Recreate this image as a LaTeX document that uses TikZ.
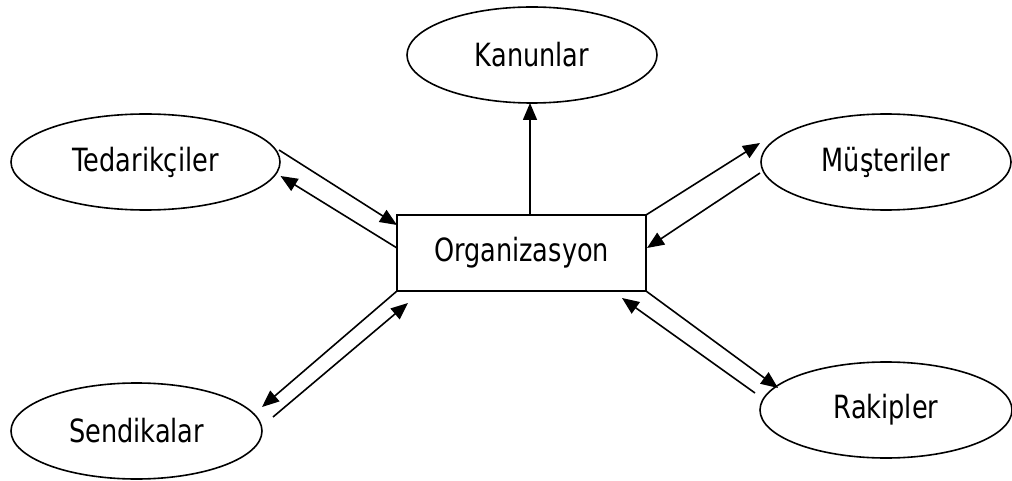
\documentclass[tikz,border=0pt]{standalone}
\usepackage{fontspec}
\setmainfont{DejaVu Sans}[FakeStretch=0.8]
\usetikzlibrary{shapes.geometric,arrows.meta,calc}
\begin{document}
\begin{tikzpicture}[x=1pt,y=-1pt,
  every node/.style={font=\fontsize{32}{38}\selectfont, inner sep=0pt, outer sep=0pt},
  ell/.style={draw, line width=1.6pt, ellipse, minimum height=96pt},
  box/.style={draw, line width=1.6pt, rectangle, minimum width=249pt, minimum height=76pt},
  conn/.style={line width=1.6pt, -{Triangle[length=17pt,width=14pt]}}]
\useasboundingbox (0,0) rectangle (1012,481);
\node[ell, minimum width=250pt] (kan) at (532,55) {Kanunlar};
\node[ell, minimum width=269pt] (ted) at (145.5,162) {Tedarikçiler};
\node[ell, minimum width=250pt] (mus) at (886,162) {Müşteriler};
\node[ell, minimum width=251pt] (sen) at (136.5,431) {Sendikalar};
\node[ell, minimum width=252pt] (rak) at (886,410) {Rakipler};
\node[box] (org) at (521.5,253) {Organizasyon};
% Kanunlar
\draw[conn] ($(org.north west)+(133,0)$) -- ($(kan.south)+(-2,0)$);
% Tedarikciler
\draw[conn] ($(ted.center)+(133.5,-12)$) -- ($(org.north west)+(0,10)$);
\draw[conn] ($(org.north west)+(0,33)$) -- ($(ted.center)+(135,14)$);
% Musteriler
\draw[conn] (org.north east) -- ($(mus.center)+(-126,-19)$);
\draw[conn] ($(mus.center)+(-126,11)$) -- ($(org.north east)+(1,33)$);
% Sendikalar
\draw[conn] (org.south west) -- ($(sen.center)+(125.5,-24)$);
\draw[conn] ($(sen.center)+(136.5,-14)$) -- ($(org.south west)+(11,12)$);
% Rakipler
\draw[conn] (org.south east) -- ($(rak.center)+(-108,-22)$);
\draw[conn] ($(rak.center)+(-131,-17)$) -- ($(org.south east)+(-24,7)$);
\end{tikzpicture}
\end{document}
